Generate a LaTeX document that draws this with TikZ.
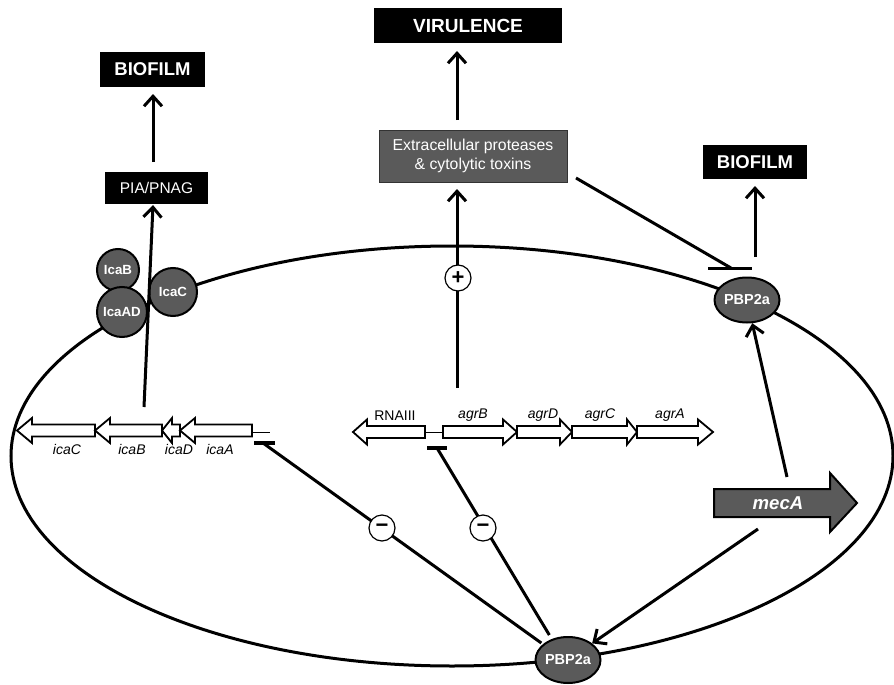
\documentclass[tikz,border=0pt]{standalone}
\usepackage{fontspec}
\setmainfont{Liberation Sans}
\usetikzlibrary{arrows.meta,shapes.geometric,calc}
\definecolor{dg}{HTML}{5A5A5A}
\newcommand\myfs[1]{\fontsize{#1}{#1}\selectfont}
\tikzset{
  blackbox/.style={fill=black,text=white,inner sep=0pt,font=\myfs{18.5}\bfseries},
  graybox/.style={fill=dg,draw=black!80,line width=0.8pt,text=white,inner sep=0pt,align=center,font=\fontsize{15.8}{19}\selectfont},
  pbp/.style={ellipse,draw,line width=2pt,fill=dg,text=white,inner sep=0pt,minimum width=58pt,minimum height=45pt,font=\myfs{14.5}\bfseries},
  prot/.style={circle,draw,line width=2pt,fill=dg,text=white,inner sep=0pt,font=\myfs{13.3}\bfseries},
  gene/.style={draw,fill=white,line width=1.8pt,line join=miter},
  glabel/.style={inner sep=0pt,font=\myfs{14}\itshape},
  conn/.style={line width=3pt,-{Straight Barb[length=10pt,width=18pt]}},
  plain/.style={line width=3pt},
  ibar/.style={line width=4pt},
  sign/.style={circle,draw,line width=1.2pt,fill=white,minimum size=26pt,inner sep=0pt,font=\myfs{22}\bfseries},
}
\newcommand\gleft[4]{%
  \draw[gene] ({#1},{#4}) -- ({#2},{#4-12.5}) -- ({#2},{#4-6}) -- ({#3},{#4-6}) -- ({#3},{#4+6}) -- ({#2},{#4+6}) -- ({#2},{#4+12.5}) -- cycle;}
\newcommand\gright[4]{%
  \draw[gene] ({#1},{#4-6}) -- ({#2},{#4-6}) -- ({#2},{#4-12.5}) -- ({#3},{#4}) -- ({#2},{#4+12.5}) -- ({#2},{#4+6}) -- ({#1},{#4+6}) -- cycle;}
\begin{document}
\begin{tikzpicture}[x=1pt,y=-1pt]
\useasboundingbox[fill=white] (0,0) rectangle (894,685);

% cell
\draw[line width=3pt] (452,456) ellipse [x radius=441, y radius=210];

% boxes
\node[blackbox,minimum width=105pt,minimum height=35pt] (bioL) at (152.5,69.5) {BIOFILM};
\node[blackbox,minimum width=103pt,minimum height=32pt,font=\myfs{15.5}] (pia) at (156.5,188) {PIA/PNAG};
\node[blackbox,minimum width=188pt,minimum height=35pt,font=\myfs{19}\bfseries] (vir) at (468,25.5) {VIRULENCE};
\node[graybox,minimum width=188pt,minimum height=52pt] (extra) at (473,156) {Extracellular proteases\\\& cytolytic toxins};
\node[blackbox,minimum width=104pt,minimum height=34pt] (bioR) at (755,162) {BIOFILM};

% ica operon
\gleft{17}{32}{95}{430.5}
\gleft{95}{110}{162}{430.5}
\gleft{162}{172}{180}{430.5}
\gleft{180}{195}{252}{430.5}
\coordinate (icaEnd) at (252,432);
\coordinate (icaProm) at (270,432);
\draw[line width=1pt] (icaEnd) -- (icaProm);
\node[glabel] (lC) at (67,449) {icaC};
\node[glabel] (lB) at (132,449) {icaB};
\node[glabel] (lD) at (179,449) {icaD};
\node[glabel] (lA) at (220,449) {icaA};

% agr operon
\gleft{353}{367}{425}{432}
\coordinate (rnaEnd) at (425,432);
\coordinate (agrStart) at (443,432);
\draw[line width=1pt] (rnaEnd) -- (agrStart);
\gright{443}{503}{517}{432}
\gright{517}{560}{572}{432}
\gright{572}{627}{637}{432}
\gright{637}{698}{713}{432}
\node[glabel,font=\myfs{14}] (lR) at (395,415.5) {RNAIII};
\node[glabel] (lagB) at (473,415.5) {agrB};
\node[glabel] (lagD) at (543,415.5) {agrD};
\node[glabel] (lagC) at (600,415.5) {agrC};
\node[glabel] (lagA) at (670,415.5) {agrA};

% mecA
\draw[line width=2pt,fill=dg,line join=miter] (714,489) -- (830,489) -- (830,473) -- (857,503) -- (830,532) -- (830,517) -- (714,517) -- cycle;
\node[text=white,inner sep=0pt,font=\myfs{18.6}\bfseries\itshape] (mecA) at (778,503) {mecA};

% proteins
\node[prot,minimum size=42pt] (icaB) at (118,270) {IcaB};
\node[prot,minimum size=50pt] (icaAD) at (122,312) {IcaAD};
\node[prot,minimum size=48pt] (icaC) at (173,292) {IcaC};
\node[pbp] (pbpR) at (747,300) {PBP2a};
\node[pbp,minimum width=60pt,minimum height=46pt] (pbpB) at (568,660) {PBP2a};

% coordinates for connector ends
\coordinate (icaUp) at (144,407);
\coordinate (piaIn) at (153,205);
\coordinate (piaOut) at (153,162);
\coordinate (bioLIn) at (153,94);
\coordinate (extraOut) at (457,120);
\coordinate (virIn) at (457,51);
\coordinate (agrUp) at (457,388);
\coordinate (extraIn) at (457,189);
\coordinate (extraCorner) at (576,178);
\coordinate (barR) at (731,268);
\coordinate (barRl) at (708,268);
\coordinate (barRr) at (752,268);
\coordinate (bioROut) at (755,257);
\coordinate (bioRIn) at (755,186);
\coordinate (mecUp) at (787,477);
\coordinate (mecDown) at (758,529);
\coordinate (icaBar) at (263,443);
\coordinate (icaBarL) at (254,443);
\coordinate (icaBarR) at (275,443);
\coordinate (agrBar) at (437,448);
\coordinate (agrBarL) at (427,448);
\coordinate (agrBarR) at (447,448);

% connectors
\draw[conn] (icaUp) -- (piaIn);
\draw[conn] (piaOut) -- (bioLIn);
\draw[conn] (extraOut) -- (virIn);
\draw[conn] (agrUp) -- (extraIn);
\draw[plain] (extraCorner) -- (barR);
\draw[line width=3pt] (barRl) -- (barRr);
\draw[conn] (bioROut) -- (bioRIn);
\draw[conn] (mecUp) -- (pbpR);
\draw[conn] (mecDown) -- (pbpB);
\draw[plain] (pbpB.north west) ++(-3,0) coordinate (pb1) (pb1) -- (icaBar);
\draw[plain] (pbpB.north west) ++(5,-8) coordinate (pb2) (pb2) -- (agrBar);
\draw[ibar] (icaBarL) -- (icaBarR);
\draw[ibar] (agrBarL) -- (agrBarR);

% signs
\node[sign] (plus) at (458,278) {+};
\node[sign] (minus1) at (382,528) {−};
\node[sign] (minus2) at (483,528) {−};
\end{tikzpicture}
\end{document}
